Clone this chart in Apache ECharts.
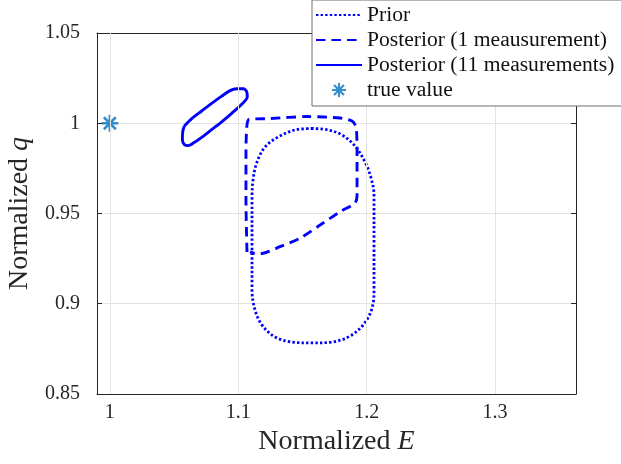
<!DOCTYPE html>
<html>
<head>
<meta charset="utf-8">
<script src="https://cdn.jsdelivr.net/npm/echarts@6/dist/echarts.min.js"></script>
<style>html,body{margin:0;padding:0;background:#fff;}#c{width:621px;height:464px;}</style>
</head>
<body>
<div id="c"></div>
<script>
// ---- data ----
const xTicks = [1, 1.1, 1.2, 1.3];
const yTicks = [0.85, 0.9, 0.95, 1, 1.05];

const priorE = [1.1582,1.1442,1.1310,1.1208,1.1146,1.1115,1.1107,1.1107,1.1107,1.1131,1.1185,1.1286,1.1419,1.1574,1.1730,1.1870,1.1979,1.2042,1.2057,1.2057,1.2057,1.2034,1.1987,1.1909,1.1808,1.1699,1.1582];
const priorQ = [0.9971,0.9963,0.9924,0.9868,0.9785,0.9686,0.9575,0.9298,0.9076,0.8965,0.8882,0.8816,0.8788,0.8783,0.8788,0.8821,0.8888,0.8976,0.9076,0.9353,0.9603,0.9697,0.9785,0.9874,0.9935,0.9963,0.9971];

const post1E = [1.1068,1.1060,1.1060,1.1068,1.1084,1.1247,1.1536,1.1793,1.1886,1.1917,1.1925,1.1925,1.1909,1.1793,1.1637,1.1481,1.1325,1.1193,1.1131,1.1092];
const post1Q = [0.9287,0.9575,0.9852,0.9990,1.0021,1.0026,1.0037,1.0029,1.0012,0.9979,0.9852,0.9603,0.9558,0.9510,0.9436,0.9363,0.9316,0.9280,0.9278,0.9287];

const post11E = [1.0580,1.0638,1.0715,1.0793,1.0871,1.0936,1.0988,1.1039,1.1066,1.1070,1.1027,1.0949,1.0871,1.0793,1.0715,1.0650,1.0611,1.0580,1.0565,1.0568,1.0580];
const post11Q = [0.9985,1.0026,1.0068,1.0110,1.0150,1.0181,1.0191,1.0191,1.0175,1.0145,1.0105,1.0055,1.0008,0.9965,0.9922,0.9890,0.9876,0.9882,0.9912,0.9956,0.9985];

const trueE = [1];
const trueQ = [1];

const names = ['Prior', 'Posterior (1 meausurement)', 'Posterior (11 measurements)', 'true value'];

// ---- build ----
const zip = (a, b) => a.map((v, i) => [v, b[i]]);
const FONT = 'Liberation Serif';
const AX = '#262626';
const GRIDC = '#e3e3e3';
const BLUE = '#0000ff';

// asterisk symbol (plus + cross)
const h = 1.5, L = 10, d = 7.07, o = h * 0.7071;
const asterisk = 'path://' +
  `M${-h},${-L}L${h},${-L}L${h},${L}L${-h},${L}Z` +
  `M${-L},${-h}L${L},${-h}L${L},${h}L${-L},${h}Z` +
  `M${-d + o},${-d - o}L${d + o},${d - o}L${d - o},${d + o}L${-d - o},${-d + o}Z` +
  `M${d - o},${-d - o}L${d + o},${-d + o}L${-d + o},${d + o}L${-d - o},${d - o}Z`;

const chart = echarts.init(document.getElementById('c'), null, {renderer: 'canvas'});
const xMin = 0.99, xMax = 1.363;

const option = {
  animation: false,
  backgroundColor: '#fff',
  textStyle: {fontFamily: FONT},
  grid: {left: 97, right: 45, top: 33, bottom: 70, containLabel: false, outerBoundsMode: 'none'},
  legend: {
    orient: 'vertical', left: 312, top: 0,
    padding: [4, 10, 5, 3],
    itemWidth: 46, itemHeight: 14, itemGap: 3,
    backgroundColor: '#fff', borderColor: '#6f6f6f', borderWidth: 1,
    textStyle: {fontFamily: FONT, fontSize: 21.6, color: '#111', lineHeight: 22},
    data: names.map((n, i) => i < 3 ? ({name: n, itemStyle: {opacity: 0}}) : ({name: n})),
    z: 10
  },
  xAxis: [{
    type: 'value', position: 'bottom', min: xMin, max: xMax,
    axisLine: {show: true, lineStyle: {color: AX, width: 1}},
    axisTick: {show: true, inside: true, length: 5, customValues: xTicks, lineStyle: {color: AX}},
    axisLabel: {customValues: xTicks, margin: 9, color: '#262626', fontSize: 20, fontFamily: FONT,
      formatter: v => String(+v.toFixed(2))},
    splitLine: {show: false},
    name: '{r|Normalized }{i|E}', nameLocation: 'middle', nameGap: 32,
    nameTextStyle: {rich: {
      r: {fontFamily: FONT, fontSize: 28, color: '#262626'},
      i: {fontFamily: FONT, fontSize: 28, fontStyle: 'italic', color: '#262626'}}}
  }, {
    type: 'value', position: 'top', min: xMin, max: xMax,
    axisLine: {show: true, lineStyle: {color: AX, width: 1}},
    axisTick: {show: true, inside: true, length: 5, customValues: xTicks, lineStyle: {color: AX}},
    axisLabel: {show: false}, splitLine: {show: false}
  }],
  yAxis: [{
    type: 'value', position: 'left', min: 0.85, max: 1.05, interval: 0.05,
    axisLine: {show: true, lineStyle: {color: AX, width: 1}},
    axisTick: {show: true, inside: true, length: 5, lineStyle: {color: AX}},
    axisLabel: {margin: 17, color: '#262626', fontSize: 20, fontFamily: FONT,
      formatter: v => String(+v.toFixed(2))},
    splitLine: {show: true, lineStyle: {color: GRIDC, width: 1}},
    name: '{r|Normalized }{i|q}', nameLocation: 'middle', nameGap: 59, nameRotate: 90,
    nameTextStyle: {rich: {
      r: {fontFamily: FONT, fontSize: 28, color: '#262626'},
      i: {fontFamily: FONT, fontSize: 28, fontStyle: 'italic', color: '#262626'}}}
  }, {
    type: 'value', position: 'right', min: 0.85, max: 1.05, interval: 0.05,
    axisLine: {show: true, lineStyle: {color: AX, width: 1}},
    axisTick: {show: true, inside: true, length: 5, lineStyle: {color: AX}},
    axisLabel: {show: false}, splitLine: {show: false}
  }],
  series: [
    {
      name: 'gridlines', type: 'line', data: [], z: 0, silent: true,
      markLine: {
        silent: true, symbol: ['none', 'none'], animation: false,
        label: {show: false},
        lineStyle: {color: GRIDC, type: 'solid', width: 1},
        emphasis: {disabled: true},
        data: xTicks.map(v => ({xAxis: v}))
      }
    },
    {
      name: names[0], type: 'line', data: zip(priorE, priorQ), symbol: 'none', smooth: 0.35,
      color: BLUE, lineStyle: {color: BLUE, width: 2.8, type: [2.4, 2.2], cap: 'butt'}, z: 3
    },
    {
      name: names[1], type: 'line', data: zip(post1E, post1Q), symbol: 'none', smooth: 0.25,
      color: BLUE, lineStyle: {color: BLUE, width: 2.9, type: [9.5, 6], cap: 'butt'}, z: 3
    },
    {
      name: names[2], type: 'line', data: zip(post11E, post11Q), symbol: 'none', smooth: 0.3,
      color: BLUE, lineStyle: {color: BLUE, width: 2.9, type: 'solid', join: 'round'}, z: 3
    },
    {
      name: names[3], type: 'scatter', data: zip(trueE, trueQ), symbol: asterisk, symbolSize: 17,
      itemStyle: {color: '#0072BD'}, z: 4
    }
  ]
};
chart.setOption(option);
</script>
</body>
</html>
